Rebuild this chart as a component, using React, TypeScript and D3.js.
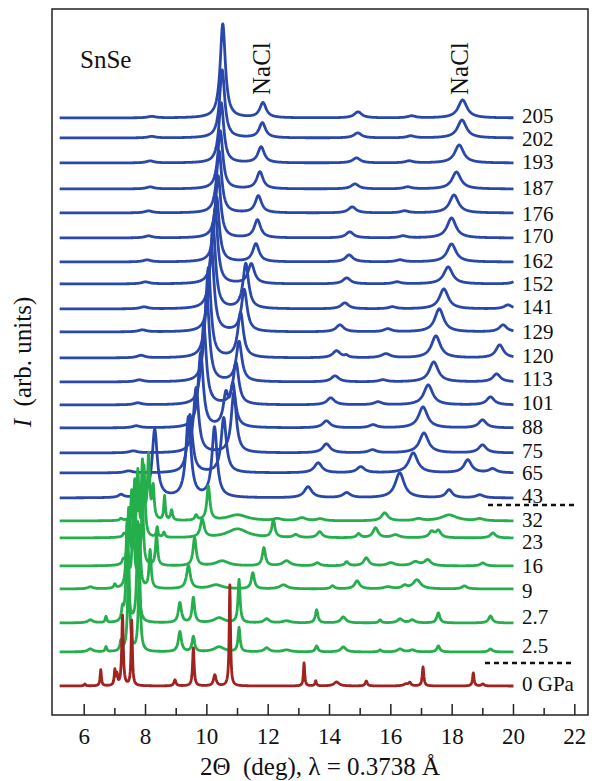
import React from 'react';
import * as d3 from 'd3';

// pressure labels (GPa), top to bottom
const labels = ['205', '202', '193', '187', '176', '170', '162', '152', '141', '129', '120', '113', '101', '88', '75', '65', '43', '32', '23', '16', '9', '2.7', '2.5', '0 GPa'];
// vertical offsets of each pattern (arb. units)
const offsets = [597, 577, 552, 526, 502, 477, 453, 431, 406, 383, 357, 333, 310, 287, 262, 242, 217, 194, 177, 149, 126, 92, 63, 29];
// label shift against its pattern, as in the figure (arb. units)
const labelShift = [2, -1, 1, 1, -1, 2, 1, 0, 2, 0, 2, 3, 2, 1, 2, 0, 2, 1, -4, 0, -2, 6, 6, 2];
// which colour group each pattern belongs to
const phase = ['b', 'b', 'b', 'b', 'b', 'b', 'b', 'b', 'b', 'b', 'b', 'b', 'b', 'b', 'b', 'b', 'b', 'g', 'g', 'g', 'g', 'g', 'g', 'r'];

// peaks: [2theta, height, fwhm]
const p205 = [[8.2, 1.5, 0.3], [10.52, 94, 0.2], [11.83, 15, 0.25], [14.93, 6, 0.3], [16.68, 2, 0.3], [18.34, 18, 0.35]];
const p202 = [[8.2, 1.5, 0.3], [10.5, 68, 0.2], [11.81, 15, 0.25], [14.92, 5, 0.3], [16.65, 2, 0.3], [18.32, 18, 0.35]];
const p193 = [[8.15, 2, 0.3], [10.47, 60, 0.2], [11.77, 16, 0.25], [14.88, 5, 0.3], [16.6, 2, 0.3], [18.23, 18, 0.35]];
const p187 = [[8.15, 2, 0.3], [10.44, 58, 0.2], [11.73, 17, 0.25], [14.83, 5, 0.3], [16.55, 2, 0.3], [18.14, 17, 0.35]];
const p176 = [[8.1, 2, 0.3], [10.4, 62, 0.2], [11.68, 17, 0.25], [14.74, 6, 0.3], [16.45, 2, 0.3], [18.06, 18, 0.35]];
const p170 = [[8.1, 2, 0.3], [10.37, 62, 0.2], [11.65, 18, 0.25], [14.66, 6, 0.3], [16.4, 2, 0.3], [17.98, 20, 0.35]];
const p162 = [[8.05, 2, 0.3], [10.32, 65, 0.2], [11.6, 18, 0.25], [14.64, 7, 0.3], [16.3, 2, 0.3], [17.98, 18, 0.35]];
const p152 = [[8.0, 2, 0.3], [10.27, 75, 0.2], [11.45, 20, 0.25], [14.56, 6, 0.3], [16.2, 2, 0.3], [17.87, 17, 0.35], [20.1, 3, 0.3]];
const p141 = [[7.95, 2, 0.3], [10.2, 85, 0.2], [11.27, 45, 0.22], [14.5, 6, 0.3], [16.05, 2, 0.3], [17.73, 20, 0.35], [19.82, 4, 0.3]];
const p129 = [[7.9, 2, 0.3], [10.15, 85, 0.2], [11.22, 42, 0.22], [14.34, 7, 0.3], [15.9, 3, 0.3], [17.58, 23, 0.35], [19.66, 7, 0.3]];
const p120 = [[7.85, 2.5, 0.3], [10.05, 90, 0.2], [11.1, 45, 0.22], [14.23, 7, 0.3], [14.55, 2, 0.15], [15.84, 4, 0.35], [17.47, 22, 0.35], [19.55, 13, 0.3]];
const p113 = [[7.8, 2, 0.3], [10.0, 85, 0.2], [11.05, 40, 0.22], [14.18, 6, 0.3], [15.74, 2, 0.3], [17.4, 20, 0.35], [19.45, 8, 0.3]];
const p101 = [[7.75, 2, 0.3], [9.9, 80, 0.2], [10.95, 42, 0.22], [14.04, 7, 0.3], [15.58, 3, 0.3], [17.22, 20, 0.35], [19.25, 8, 0.3]];
const p88 = [[7.7, 2, 0.3], [9.8, 75, 0.2], [10.62, 30, 0.2], [10.85, 40, 0.2], [13.9, 7, 0.3], [15.42, 3, 0.3], [17.05, 21, 0.35], [18.99, 8, 0.3]];
const p75 = [[7.6, 2, 0.3], [9.65, 65, 0.2], [10.88, 60, 0.2], [13.9, 9, 0.3], [15.4, 3, 0.3], [17.08, 20, 0.35], [18.99, 8, 0.3]];
const p65 = [[7.45, 2, 0.3], [9.45, 58, 0.2], [10.55, 55, 0.2], [13.63, 10, 0.3], [15.02, 6, 0.3], [16.73, 20, 0.35], [18.51, 13, 0.3], [19.32, 4, 0.3]];
const p43 = [[7.2, 3, 0.2], [8.3, 68, 0.2], [9.4, 80, 0.2], [10.25, 70, 0.2], [13.3, 11, 0.3], [14.56, 5, 0.3], [16.29, 25, 0.35], [17.9, 8, 0.25], [18.9, 3, 0.3]];
const p32 = [[7.2, 2, 0.1], [7.65, 40, 0.08], [7.9, 58, 0.08], [8.1, 64, 0.08], [8.25, 32, 0.08], [8.62, 24, 0.06], [8.85, 10, 0.08], [9.65, 5, 0.1], [10.05, 34, 0.12], [11.0, 6, 0.8], [12.3, 2, 0.3], [13.1, 3, 0.3], [13.7, 2, 0.3], [15.8, 8, 0.25], [16.9, 2, 0.3], [17.9, 6, 0.6], [18.9, 2, 0.3]];
const p23 = [[7.3, 3, 0.08], [7.55, 45, 0.08], [7.75, 65, 0.08], [7.95, 70, 0.08], [8.38, 10, 0.06], [8.6, 5, 0.08], [9.85, 18, 0.15], [11.0, 9, 0.8], [12.17, 17, 0.12], [12.9, 3, 0.2], [13.68, 6, 0.2], [14.95, 4, 0.15], [15.5, 10, 0.2], [16.15, 3, 0.3], [17.33, 6, 0.2], [17.55, 7, 0.2], [19.33, 5, 0.2]];
const p16 = [[7.27, 4, 0.08], [7.45, 55, 0.08], [7.65, 75, 0.08], [7.9, 62, 0.08], [8.36, 31, 0.08], [9.6, 28, 0.12], [10.5, 5, 0.5], [11.86, 18, 0.12], [12.6, 5, 0.3], [13.6, 3, 0.2], [14.56, 4, 0.15], [15.2, 8, 0.2], [16.0, 3, 0.3], [16.8, 4, 0.3], [17.2, 6, 0.25], [19.0, 3, 0.2]];
const p9 = [[6.2, 2, 0.2], [7.0, 4, 0.08], [7.4, 65, 0.08], [7.6, 82, 0.08], [7.8, 60, 0.08], [8.15, 38, 0.08], [9.4, 23, 0.15], [10.3, 4, 0.5], [11.5, 16, 0.12], [12.5, 4, 0.3], [14.1, 3, 0.15], [14.9, 8, 0.2], [15.9, 2, 0.3], [16.45, 3, 0.2], [16.85, 9, 0.3], [18.4, 3, 0.2]];
const p27 = [[6.2, 3, 0.2], [6.71, 6, 0.06], [7.25, 12, 0.08], [7.4, 95, 0.08], [7.75, 100, 0.08], [9.12, 20, 0.12], [9.56, 25, 0.1], [10.4, 5, 0.4], [11.05, 43, 0.08], [11.95, 4, 0.2], [12.6, 2, 0.3], [13.58, 13, 0.1], [14.45, 6, 0.2], [15.65, 3, 0.1], [16.3, 4, 0.2], [16.7, 3, 0.2], [17.55, 10, 0.12], [19.25, 7, 0.15]];
const p25 = [[6.2, 3, 0.2], [6.71, 5, 0.06], [7.2, 10, 0.08], [7.45, 90, 0.08], [7.8, 85, 0.08], [9.12, 20, 0.12], [9.56, 15, 0.1], [10.4, 5, 0.4], [11.05, 24, 0.08], [11.95, 4, 0.2], [12.6, 2, 0.3], [13.58, 6, 0.1], [14.45, 5, 0.2], [15.65, 2, 0.1], [16.3, 3, 0.2], [16.7, 2, 0.2], [17.55, 6, 0.12], [19.25, 3, 0.15]];
const p0 = [[6.02, 2, 0.06], [6.54, 16, 0.05], [7.0, 15, 0.05], [7.07, 10, 0.05], [7.25, 70, 0.06], [7.55, 65, 0.05], [8.96, 6, 0.08], [9.56, 38, 0.06], [10.26, 11, 0.1], [10.75, 101, 0.05], [13.17, 23, 0.05], [13.55, 5, 0.06], [14.23, 4, 0.2], [15.2, 5, 0.08], [16.5, 2, 0.2], [16.62, 3, 0.08], [17.05, 19, 0.06], [18.69, 13, 0.06], [19.0, 2, 0.1]];

const peakLists = [p205, p202, p193, p187, p176, p170, p162, p152, p141, p129, p120, p113, p101, p88, p75, p65, p43, p32, p23, p16, p9, p27, p25, p0];

const majorTicks = [6, 8, 10, 12, 14, 16, 18, 20, 22];
const minorTicks = [7, 9, 11, 13, 15, 17, 19, 21];

const colors = { b: '#2a47aa', g: '#25ae4c', r: '#a1231f' };

const W = 594, H = 781;
const margin = { left: 52, right: 6, top: 9, bottom: 66 };
const x0 = 5.2, x1 = 20.0;

// build the pattern from its peak list (lorentzian profiles)
function pattern(peaks, offset) {
  const pts = [];
  for (let t = x0; t <= x1 + 1e-9; t += 0.01) {
    let v = offset;
    for (const [c, h, w] of peaks) {
      const u = (t - c) / (w / 2);
      v += h / (1 + u * u);
    }
    pts.push([t, v]);
  }
  return pts;
}

const txt = { fontFamily: '"Liberation Serif", serif', fill: '#111' };

export default function App() {
  const x = d3.scaleLinear().domain([4.95, 22.43]).range([margin.left, W - margin.right]);
  const y = d3.scaleLinear().domain([0, 706]).range([H - margin.bottom, margin.top]);
  const line = d3.line().x(d => x(d[0])).y(d => y(d[1]));
  const bottom = H - margin.bottom;

  return (
    <svg width={W} height={H} style={{ position: 'absolute', left: 0, top: 0 }}>
      <rect x={0} y={0} width={W} height={H} fill="#fff" />
      {peakLists.map((pk, i) => (
        <path key={i} d={line(pattern(pk, offsets[i]))} fill="none"
          stroke={colors[phase[i]]} strokeWidth={2.8} strokeLinejoin="round" />
      ))}
      {labels.map((l, i) => (
        <text key={l} x={522} y={y(offsets[i] + labelShift[i]) + 7} fontSize={21} style={txt}>{l}</text>
      ))}
      {/* phase boundaries */}
      <line x1={488} x2={576} y1={505} y2={505} stroke="#111" strokeWidth={2.5} strokeDasharray="5,4" />
      <line x1={485} x2={575} y1={663} y2={663} stroke="#111" strokeWidth={2.5} strokeDasharray="5,4" />
      <rect x={margin.left} y={margin.top} width={W - margin.left - margin.right} height={bottom - margin.top}
        fill="none" stroke="#222" strokeWidth={1.5} />
      {majorTicks.map(t => (
        <g key={t}>
          <line x1={x(t)} x2={x(t)} y1={bottom} y2={bottom - 11} stroke="#222" strokeWidth={1.5} />
          <text x={x(t)} y={744} fontSize={23} textAnchor="middle" style={txt}>{t}</text>
        </g>
      ))}
      {minorTicks.map(t => (
        <line key={t} x1={x(t)} x2={x(t)} y1={bottom} y2={bottom - 7} stroke="#222" strokeWidth={1.5} />
      ))}
      <text x={(margin.left + W - margin.right) / 2} y={775} fontSize={25} textAnchor="middle" style={txt}>
        2Θ{'\u00a0'} (deg), λ = 0.3738 Å
      </text>
      <text transform="translate(31,362) rotate(-90)" fontSize={25} textAnchor="middle" style={txt}>
        <tspan fontStyle="italic">I</tspan>{'\u00a0'} (arb. units)
      </text>
      <text x={80} y={68} fontSize={25} style={txt}>SnSe</text>
      <text transform="translate(270,95) rotate(-90)" fontSize={25} style={txt}>NaCl</text>
      <text transform="translate(468,95) rotate(-90)" fontSize={25} style={txt}>NaCl</text>
    </svg>
  );
}
